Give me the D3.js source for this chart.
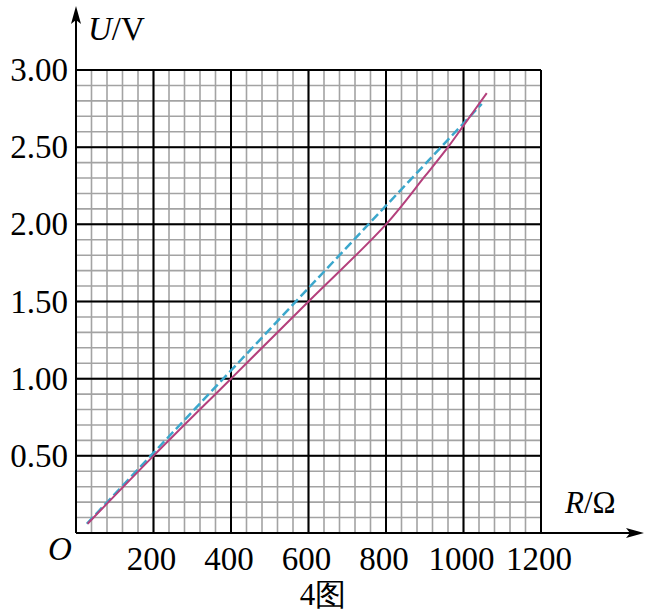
<!DOCTYPE html>
<html>
<head>
<meta charset="utf-8">
<script src="https://cdn.jsdelivr.net/npm/d3@7"></script>
<style>
  body { margin: 0; background: #fff; }
  text { font-family: "Liberation Serif", "DejaVu Serif", serif; fill: #000; }
</style>
</head>
<body>
<div id="container"></div>
<script>
// tick labels
const xTicks = [200, 400, 600, 800, 1000, 1200];
const yTicks = [0.5, 1.0, 1.5, 2.0, 2.5, 3.0];

// measured curve (solid, purple)
const curveR = [30, 200, 400, 600, 800, 900, 960, 1000, 1060];
const curveU = [0.06, 0.50, 1.00, 1.50, 2.00, 2.31, 2.50, 2.64, 2.85];

// fitted line (dashed, blue)
const lineR = [28, 1047];
const lineU = [0.06, 2.78];

const width = 652, height = 613;

const x = d3.scaleLinear().domain([0, 1200]).range([76, 541]);
const y = d3.scaleLinear().domain([0, 3]).range([533, 70]);

const svg = d3.select("#container")
    .append("svg")
    .attr("width", width)
    .attr("height", height);

// minor grid
const minorX = d3.range(0, 1201, 40);
const minorY = d3.range(0, 31).map(d => d / 10);

svg.append("g")
    .selectAll("line")
    .data(minorX)
    .enter()
    .append("line")
    .attr("x1", d => x(d)).attr("x2", d => x(d))
    .attr("y1", y(0)).attr("y2", y(3))
    .attr("stroke", "#a3a3a3")
    .attr("stroke-width", 1.6);

svg.append("g")
    .selectAll("line")
    .data(minorY)
    .enter()
    .append("line")
    .attr("x1", x(0)).attr("x2", x(1200))
    .attr("y1", d => y(d)).attr("y2", d => y(d))
    .attr("stroke", "#a3a3a3")
    .attr("stroke-width", 1.6);

// major grid
svg.append("g")
    .selectAll("line")
    .data(xTicks)
    .enter()
    .append("line")
    .attr("x1", d => x(d)).attr("x2", d => x(d))
    .attr("y1", y(0)).attr("y2", y(3))
    .attr("stroke", "#000")
    .attr("stroke-width", 2);

svg.append("g")
    .selectAll("line")
    .data(yTicks)
    .enter()
    .append("line")
    .attr("x1", x(0)).attr("x2", x(1200))
    .attr("y1", d => y(d)).attr("y2", d => y(d))
    .attr("stroke", "#000")
    .attr("stroke-width", 2);

// axes with arrows
svg.append("line")
    .attr("x1", x(0)).attr("x2", x(0))
    .attr("y1", y(0)).attr("y2", 14)
    .attr("stroke", "#000").attr("stroke-width", 2);
svg.append("path")
    .attr("d", `M${x(0)},6 L${x(0) - 5},24 L${x(0)},20 L${x(0) + 5},24 Z`)
    .attr("fill", "#000");

svg.append("line")
    .attr("x1", x(0)).attr("x2", 636)
    .attr("y1", y(0)).attr("y2", y(0))
    .attr("stroke", "#000").attr("stroke-width", 2);
svg.append("path")
    .attr("d", `M644,${y(0)} L626,${y(0) - 5} L630,${y(0)} L626,${y(0) + 5} Z`)
    .attr("fill", "#000");

// tick labels
svg.append("g")
    .selectAll("text")
    .data(yTicks)
    .enter()
    .append("text")
    .attr("x", 68)
    .attr("y", d => y(d) + 11)
    .attr("text-anchor", "end")
    .attr("font-size", 33)
    .text(d => d.toFixed(2));

svg.append("g")
    .selectAll("text")
    .data(xTicks)
    .enter()
    .append("text")
    .attr("x", d => x(d) - 2)
    .attr("y", 570)
    .attr("text-anchor", "middle")
    .attr("font-size", 33)
    .text(d => d);

svg.append("text")
    .attr("x", 60).attr("y", 560)
    .attr("text-anchor", "middle")
    .attr("font-size", 33)
    .attr("font-style", "italic")
    .text("O");

// axis titles
const uLabel = svg.append("text")
    .attr("x", 88).attr("y", 40)
    .attr("font-size", 33);
uLabel.append("tspan").attr("font-style", "italic").text("U");
uLabel.append("tspan").text("/V");

const rLabel = svg.append("text")
    .attr("x", 565).attr("y", 513)
    .attr("font-size", 31);
rLabel.append("tspan").attr("font-style", "italic").text("R");
rLabel.append("tspan").text("/Ω");

svg.append("text")
    .attr("x", 323).attr("y", 605)
    .attr("text-anchor", "middle")
    .attr("font-size", 31)
    .text("4图");

// curves
const curvePts = curveR.map((r, i) => [r, curveU[i]]);
const linePts = lineR.map((r, i) => [r, lineU[i]]);

const lineGen = d3.line()
    .x(d => x(d[0]))
    .y(d => y(d[1]));

svg.append("path")
    .datum(linePts)
    .attr("d", lineGen)
    .attr("fill", "none")
    .attr("stroke", "#3ba7cc")
    .attr("stroke-width", 2.5)
    .attr("stroke-dasharray", "9,4");

svg.append("path")
    .datum(curvePts)
    .attr("d", lineGen.curve(d3.curveCatmullRom.alpha(0.5)))
    .attr("fill", "none")
    .attr("stroke", "#b4407c")
    .attr("stroke-width", 2);
</script>
</body>
</html>
